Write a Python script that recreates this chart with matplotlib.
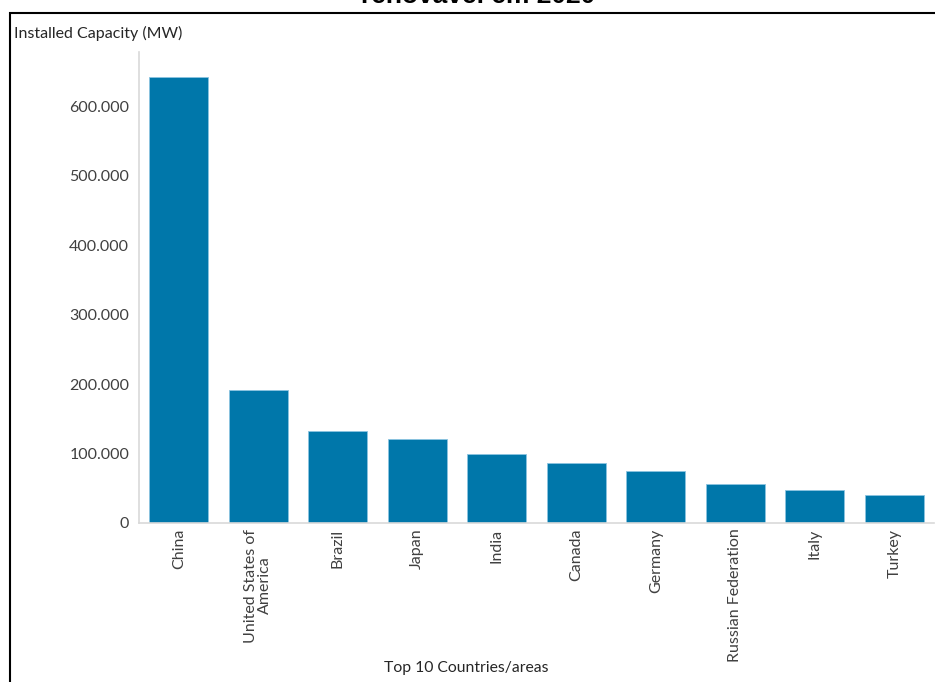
import matplotlib.pyplot as plt
from matplotlib.patches import Rectangle
from matplotlib.ticker import FuncFormatter

countries = ["China", "United States of\nAmerica", "Brazil", "Japan", "India",
             "Canada", "Germany", "Russian Federation", "Italy", "Turkey"]
capacity_mw = [642000, 192000, 133000, 121000, 100000,
               86000, 75000, 56000, 48000, 40000]
y_ticks = [0, 100000, 200000, 300000, 400000, 500000, 600000]

bar_color = "#0077aa"
text_color = "#404040"
font = "Lato"

fig = plt.figure(figsize=(9.35, 6.82), dpi=100)
ax = fig.add_axes([139 / 935, 1 - 523 / 682, 795 / 935, 471 / 682])

x = range(len(countries))
ax.bar(x, capacity_mw, width=0.74, color=bar_color, edgecolor="#8cc4e0", linewidth=0.6)

ax.set_xlim(-0.5, len(countries) - 0.5)
ax.set_ylim(0, 678000)
ax.set_yticks(y_ticks)
ax.yaxis.set_major_formatter(FuncFormatter(lambda v, p: f"{int(v):,}".replace(",", ".")))
ax.set_xticks(list(x))
ax.set_xticklabels(countries, rotation=90, va="top", ha="center",
                   fontsize=11.5, color=text_color, family=font, linespacing=1.0)
for lbl in ax.get_yticklabels():
    lbl.set_fontsize(11.5)
    lbl.set_color(text_color)
    lbl.set_family(font)
ax.tick_params(length=0)
ax.tick_params(axis="y", pad=7)
ax.tick_params(axis="x", pad=4)

for side in ["top", "right"]:
    ax.spines[side].set_visible(False)
for side in ["left", "bottom"]:
    ax.spines[side].set_color("#d9d9d9")
    ax.spines[side].set_linewidth(1.2)

# labels placed in figure coords like the spreadsheet export
fig.text(14 / 935, 1 - 33 / 682, "Installed Capacity (MW)", fontsize=11.5,
         color="#262626", family=font, va="center", ha="left")
fig.text(466 / 935, 1 - 668 / 682, "Top 10 Countries/areas", fontsize=11.3,
         color="#262626", family=font, va="center", ha="center")

# title partly cut off at the top edge
fig.text(478 / 935, 1 - 3 / 682, "renovável em 2020", fontsize=19,
         fontweight="bold", family="Liberation Sans", color="black",
         va="baseline", ha="center")

# black frame around the chart
frame = Rectangle((10 / 935, -0.1), 1.2, 1 - 12.5 / 682 + 0.1,
                  transform=fig.transFigure, fill=False,
                  edgecolor="black", linewidth=1.5, clip_on=False)
fig.patches.append(frame)

fig.savefig("out.png", dpi=100)
